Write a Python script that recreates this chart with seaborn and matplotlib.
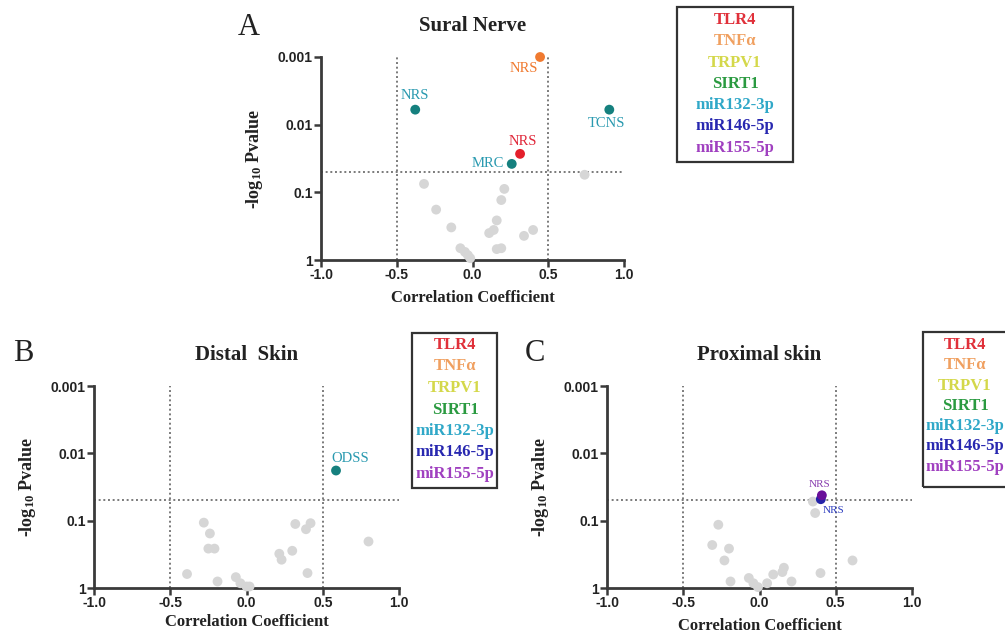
import matplotlib
matplotlib.use("Agg")
import matplotlib.pyplot as plt
import seaborn as sns
import pandas as pd
from matplotlib.patches import Rectangle
from matplotlib.ticker import NullLocator

sns.set_style("ticks")
plt.rcParams['font.family'] = ['Liberation Serif', 'DejaVu Serif']
plt.rcParams['mathtext.fontset'] = 'custom'
plt.rcParams['mathtext.rm'] = 'Liberation Serif:bold'
plt.rcParams['mathtext.bf'] = 'Liberation Serif:bold'
plt.rcParams['mathtext.it'] = 'Liberation Serif:bold'

# ---------------- data ----------------
legend_genes = ["TLR4", "TNFα", "TRPV1", "SIRT1", "miR132-3p", "miR146-5p", "miR155-5p"]
x_ticks = [-1.0, -0.5, 0.0, 0.5, 1.0]
x_tick_labels = ["-1.0", "-0.5", "0.0", "0.5", "1.0"]
y_ticks = [0.001, 0.01, 0.1, 1]
y_tick_labels = ["0.001", "0.01", "0.1", "1"]
r_cut = [-0.5, 0.5]
p_cut = 0.05

# Panel A: Sural Nerve
A_gray_r = [-0.32, 0.74, 0.21, 0.19, -0.24, -0.14, 0.16, 0.14, 0.11, 0.40, 0.34,
            -0.08, -0.05, -0.03, 0.16, 0.19, -0.015]
A_gray_p = [0.075, 0.055, 0.089, 0.13, 0.18, 0.33, 0.26, 0.36, 0.40, 0.36, 0.44,
            0.67, 0.76, 0.85, 0.69, 0.67, 0.94]
A_sig_gene = ["TNFα", "miR132-3p", "miR132-3p", "TLR4", "miR132-3p"]
A_sig_r = [0.446, -0.378, 0.903, 0.314, 0.259]
A_sig_p = [0.001, 0.006, 0.006, 0.027, 0.038]
A_sig_label = ["NRS", "NRS", "TCNS", "NRS", "MRC"]

# Panel B: Distal Skin
B_gray_r = [-0.28, -0.24, -0.25, -0.21, -0.39, -0.19, -0.07, -0.04, 0.0, 0.02,
            0.215, 0.23, 0.30, 0.32, 0.39, 0.42, 0.40, 0.80]
B_gray_p = [0.107, 0.155, 0.26, 0.26, 0.62, 0.80, 0.69, 0.85, 0.95, 0.95,
            0.31, 0.38, 0.28, 0.112, 0.134, 0.109, 0.60, 0.204]
B_sig_gene = ["miR132-3p"]
B_sig_r = [0.587]
B_sig_p = [0.018]
B_sig_label = ["ODSS"]

# Panel C: Proximal skin
C_gray_r = [-0.27, -0.31, -0.20, -0.23, -0.19, -0.07, -0.04, -0.01, 0.05, 0.09,
            0.16, 0.15, 0.21, 0.40, 0.61, 0.365, 0.35]
C_gray_p = [0.115, 0.23, 0.26, 0.39, 0.80, 0.71, 0.85, 0.97, 0.85, 0.63,
            0.50, 0.58, 0.80, 0.60, 0.39, 0.077, 0.052]
C_sig_gene = ["miR146-5p", "miR155-5p"]
C_sig_r = [0.402, 0.409]
C_sig_p = [0.048, 0.042]
C_sig_label = ["NRS", "NRS"]

# ---------------- styles ----------------
legend_colors = ["#e0303a", "#f0a060", "#d4d84a", "#2a9a40", "#30a8c8", "#2828b0", "#a040c0"]
dot_colors = {"TLR4": "#e4202c", "TNFα": "#f07a30", "TRPV1": "#c8cc30", "SIRT1": "#1f8a35",
              "miR132-3p": "#15807e", "miR146-5p": "#2424a8", "miR155-5p": "#6a109a"}
text_colors = {"TLR4": "#e0283a", "TNFα": "#f07a30", "TRPV1": "#c8cc30", "SIRT1": "#1f8a35",
               "miR132-3p": "#2a9ab0", "miR146-5p": "#3040c0", "miR155-5p": "#8a40b0"}
gray = "#d6d6d6"
axis_col = "#3a3a3a"

W, H = 1005, 636
fig = plt.figure(figsize=(W / 100, H / 100), dpi=100)


def fx(px):
    return px / W


def fy(py):
    return 1 - py / H


def draw_panel(box, title, letter, letter_xy, gray_r, gray_p, sig_gene, sig_r, sig_p,
               sig_label, offsets, label_sizes, xlabel_y):
    l, t, r, b = box
    ax = fig.add_axes([fx(l), fy(b), fx(r) - fx(l), fy(t) - fy(b)])
    ax.set_facecolor("none")
    sns.scatterplot(x=gray_r, y=gray_p, color=gray, s=50, edgecolor="none",
                    ax=ax, zorder=3)
    sig = pd.DataFrame({"r": sig_r, "p": sig_p, "gene": sig_gene})
    sns.scatterplot(data=sig, x="r", y="p", hue="gene", palette=dot_colors, s=50,
                    edgecolor="none", legend=False, ax=ax, zorder=4)
    for coll in ax.collections:
        coll.set_clip_on(False)
    for g, xr, yp, lab, off, fs in zip(sig_gene, sig_r, sig_p, sig_label, offsets, label_sizes):
        ax.annotate(lab, (xr, yp), xytext=off, textcoords="offset points",
                    ha="center", va="center", color=text_colors[g], fontsize=fs,
                    zorder=5, annotation_clip=False)
    ax.set_yscale("log")
    ax.set_xlim(-1, 1)
    ax.set_ylim(1, 0.001)
    for v in r_cut:
        ax.axvline(v, ls=(0, (1, 1.4)), color="#7a7a7a", lw=1.4, zorder=1)
    ax.axhline(p_cut, ls=(0, (1, 1.4)), color="#7a7a7a", lw=1.4, zorder=1)
    ax.set_xticks(x_ticks, labels=x_tick_labels, fontfamily="Liberation Sans",
                  fontweight="bold", fontsize=10)
    ax.set_yticks(y_ticks, labels=y_tick_labels, fontfamily="Liberation Sans",
                  fontweight="bold", fontsize=10)
    ax.yaxis.set_minor_locator(NullLocator())
    ax.xaxis.set_minor_locator(NullLocator())
    ax.tick_params(direction="out", length=5, width=1.8, color=axis_col,
                   labelcolor="#222222", pad=1)
    sns.despine(ax=ax)
    for s in ["left", "bottom"]:
        ax.spines[s].set_linewidth(2)
        ax.spines[s].set_color(axis_col)
    ax.set_xlabel("Correlation Coefficient", fontsize=12, fontweight="bold", color="#222222")
    ax.set_ylabel(r"-log$_{10}$ Pvalue", fontsize=13, fontweight="bold", color="#222222")
    ax.xaxis.set_label_coords(0.5, xlabel_y)
    ax.yaxis.set_label_coords(-0.185, 0.5)
    fig.text(fx((l + r) / 2), fy(t - 26), title, ha="center", va="baseline",
             fontsize=15, fontweight="bold", color="#222222")
    fig.text(fx(letter_xy[0]), fy(letter_xy[1]), letter, ha="left", va="baseline",
             fontsize=22, color="#222222")
    return ax


def draw_legend(box, first, step, xc):
    l, t, r, b = box
    fig.patches.append(Rectangle((fx(l), fy(b)), fx(r) - fx(l), fy(t) - fy(b),
                                 transform=fig.transFigure, fill=False,
                                 edgecolor="#333333", lw=1.6))
    for i, (g, c) in enumerate(zip(legend_genes, legend_colors)):
        fig.text(fx(xc), fy(first + i * step), g, ha="center", va="center",
                 fontsize=12, fontweight="bold", color=c)


draw_panel((321, 57, 624, 260), "Sural Nerve", "A", (238, 35),
           A_gray_r, A_gray_p, A_sig_gene, A_sig_r, A_sig_p, A_sig_label,
           [(-12, -8), (0, 10), (-2, -10), (2, 9), (-17, 0)], [10.5] * 5, -0.15)
draw_panel((94, 386, 399, 588), "Distal  Skin", "B", (13, 361),
           B_gray_r, B_gray_p, B_sig_gene, B_sig_r, B_sig_p, B_sig_label,
           [(10, 9)], [10.5], -0.13)
draw_panel((607, 386, 912, 588), "Proximal skin", "C", (525, 361),
           C_gray_r, C_gray_p, C_sig_gene, C_sig_r, C_sig_p, C_sig_label,
           [(9, -8), (-2, 8)], [8, 8], -0.15)

draw_legend((677, 7, 793, 162), 20, 21.3, 735)
draw_legend((412, 333, 497, 488), 345, 21.5, 455)
draw_legend((923, 332, 1012, 487), 345, 20.3, 965)

fig.savefig("out.png", dpi=100, facecolor="white")
